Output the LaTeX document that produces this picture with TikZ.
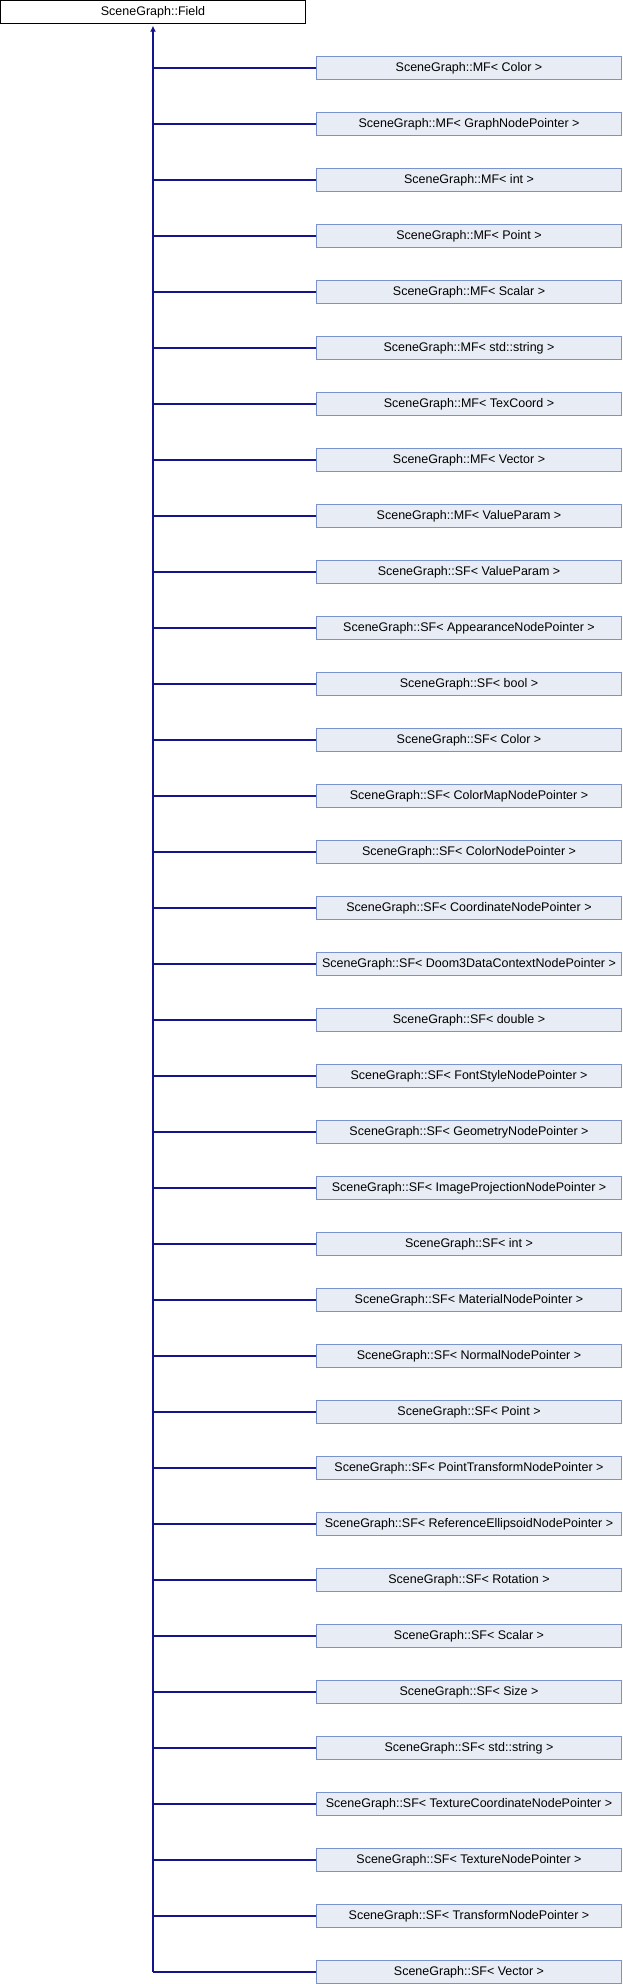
\documentclass[tikz,border=0pt]{standalone}
\usepackage{fontspec}
\setmainfont{Liberation Sans}
\usetikzlibrary{arrows.meta}
\definecolor{boxfill}{RGB}{232,236,245}
\definecolor{boxline}{RGB}{122,147,204}
\definecolor{linkcol}{RGB}{20,20,140}
\begin{document}
\begin{tikzpicture}[x=1pt,y=-1pt, font=\fontsize{12.5}{14}\selectfont,
  base/.style={draw=black, fill=white, minimum width=305pt, minimum height=23pt, inner sep=0pt},
  derived/.style={draw=boxline, fill=boxfill, minimum width=305pt, minimum height=22.7pt, inner sep=0pt},
  link/.style={draw=linkcol, line width=1.1pt}]
\useasboundingbox (0,0) rectangle (622,1984);

\node[base] (field) at (153,12) {SceneGraph::Field};

\foreach \i/\ctext in {1/MF< Color >,2/MF< GraphNodePointer >,3/MF< int >,4/MF< Point >,
  5/MF< Scalar >,6/MF< std::string >,7/MF< TexCoord >,8/MF< Vector >,9/MF< ValueParam >,
  10/SF< ValueParam >,11/SF< AppearanceNodePointer >,12/SF< bool >,13/SF< Color >,
  14/SF< ColorMapNodePointer >,15/SF< ColorNodePointer >,16/SF< CoordinateNodePointer >,
  17/SF< Doom3DataContextNodePointer >,18/SF< double >,19/SF< FontStyleNodePointer >,
  20/SF< GeometryNodePointer >,21/SF< ImageProjectionNodePointer >,22/SF< int >,
  23/SF< MaterialNodePointer >,24/SF< NormalNodePointer >,25/SF< Point >,
  26/SF< PointTransformNodePointer >,27/SF< ReferenceEllipsoidNodePointer >,
  28/SF< Rotation >,29/SF< Scalar >,30/SF< Size >,31/SF< std::string >,
  32/SF< TextureCoordinateNodePointer >,33/SF< TextureNodePointer >,
  34/SF< TransformNodePointer >,35/SF< Vector >}{
\node[derived] (sub\i) at (469,{68+(\i-1)*56}) {SceneGraph::\ctext};
\draw[link] (sub\i.west) -- (field.south |- sub\i.west);
}

% trunk with arrow up to the base class
\draw[link, -{Latex[length=6pt,width=6pt]}, shorten >=2pt] (field.south |- sub35.west) -- (field.south);

\end{tikzpicture}
\end{document}
